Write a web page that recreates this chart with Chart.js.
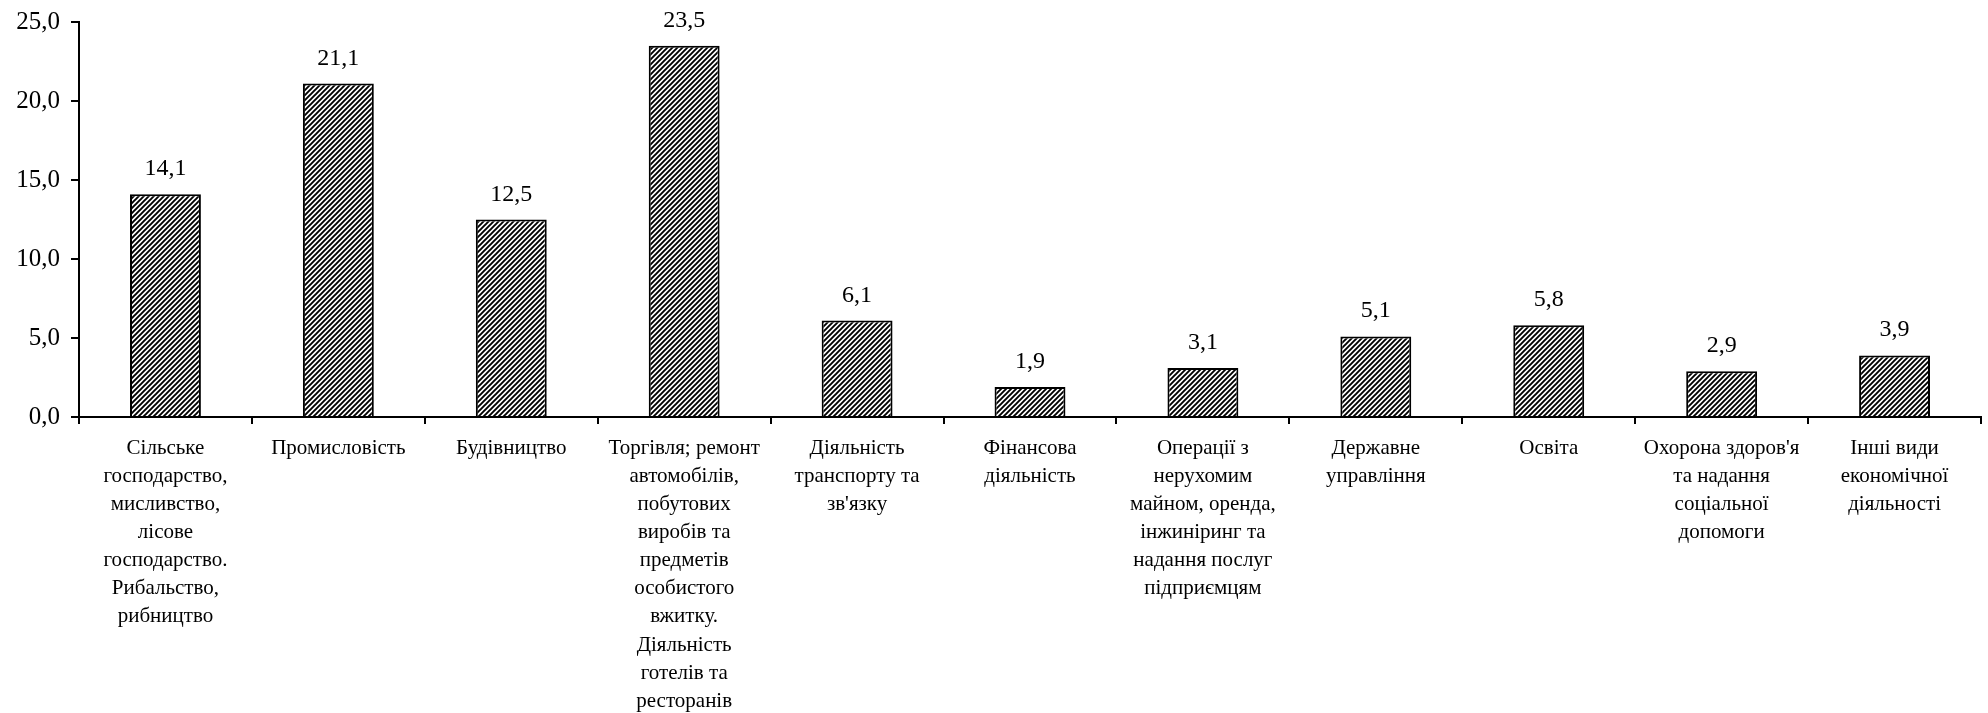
<!DOCTYPE html>
<html>
<head>
<meta charset="utf-8">
<script src="https://cdn.jsdelivr.net/npm/chart.js@4"></script>
<style>
  html, body { margin: 0; padding: 0; background: #fff; }
  #wrap { width: 1988px; height: 713px; }
</style>
</head>
<body>
<div id="wrap"><canvas id="chart" width="1988" height="713"></canvas></div>
<script>
const galuzi = [
    ['Сільське', 'господарство,', 'мисливство,', 'лісове', 'господарство.', 'Рибальство,', 'рибництво'],
    ['Промисловість'],
    ['Будівництво'],
    ['Торгівля; ремонт', 'автомобілів,', 'побутових', 'виробів та', 'предметів', 'особистого', 'вжитку.', 'Діяльність', 'готелів та', 'ресторанів'],
    ['Діяльність', 'транспорту та', "зв'язку"],
    ['Фінансова', 'діяльність'],
    ['Операції з', 'нерухомим', 'майном, оренда,', 'інжиніринг та', 'надання послуг', 'підприємцям'],
    ['Державне', 'управління'],
    ['Освіта'],
    ["Охорона здоров'я", 'та надання', 'соціальної', 'допомоги'],
    ['Інші види', 'економічної', 'діяльності']
];
const chastka = [14.1, 21.1, 12.5, 23.5, 6.1, 1.9, 3.1, 5.1, 5.8, 2.9, 3.9];
const yTicks = [0, 5, 10, 15, 20, 25];

const shrift = "'Liberation Serif', 'Times New Roman', serif";

// --- штрихування стовпців ---
function zrobytyShtrykh() {
    const t = document.createElement('canvas');
    t.width = 5; t.height = 5;
    const c = t.getContext('2d');
    c.fillStyle = '#fff';
    c.fillRect(0, 0, 5, 5);
    c.strokeStyle = '#000';
    c.lineWidth = 1.9;
    c.beginPath();
    c.moveTo(-1, 6); c.lineTo(6, -1);
    c.moveTo(-3.5, 3.5); c.lineTo(3.5, -3.5);
    c.moveTo(1.5, 8.5); c.lineTo(8.5, 1.5);
    c.stroke();
    return document.getElementById('chart').getContext('2d').createPattern(t, 'repeat');
}

// підписи значень над стовпцями
const pidpysy = {
    id: 'pidpysy',
    afterDatasetsDraw(chart) {
        const ctx = chart.ctx;
        const meta = chart.getDatasetMeta(0);
        ctx.save();
        ctx.font = '24px ' + shrift;
        ctx.fillStyle = '#000';
        ctx.textAlign = 'center';
        ctx.textBaseline = 'alphabetic';
        meta.data.forEach((bar, i) => {
            const v = chart.data.datasets[0].data[i];
            ctx.fillText(v.toFixed(1).replace('.', ','), bar.x, bar.y - 19);
        });
        ctx.restore();
    }
};

Chart.defaults.font.family = shrift;
Chart.defaults.color = '#000';

new Chart(document.getElementById('chart'), {
    type: 'bar',
    data: {
        labels: galuzi,
        datasets: [{
            data: chastka,
            backgroundColor: zrobytyShtrykh(),
            borderColor: '#000',
            borderWidth: 2,
            barPercentage: 0.41,
            categoryPercentage: 1
        }]
    },
    options: {
        responsive: false,
        animation: false,
        layout: { padding: { top: 22, right: 7, left: 0, bottom: 0 } },
        plugins: { legend: { display: false }, tooltip: { enabled: false } },
        scales: {
            x: {
                grid: { drawOnChartArea: false, color: '#000', lineWidth: 2, tickLength: 7, offset: true },
                border: { color: '#000', width: 2 },
                ticks: { font: { size: 21, lineHeight: 1.34 }, padding: 10, maxRotation: 0, autoSkip: false },
                afterFit(scale) {
                    scale.height = 296;
                    scale.paddingLeft = 0;
                    scale.paddingRight = 0;
                }
            },
            y: {
                min: 0, max: 25,
                afterBuildTicks(scale) { scale.ticks = yTicks.map(v => ({ value: v })); },
                grid: { drawOnChartArea: false, color: '#000', lineWidth: 2, tickLength: 8 },
                border: { color: '#000', width: 2 },
                ticks: {
                    font: { size: 25 }, padding: 11,
                    callback: v => v.toFixed(1).replace('.', ',')
                },
                afterFit(scale) {
                    scale.width = 79;
                    scale.paddingTop = 0;
                    scale.paddingBottom = 0;
                }
            }
        }
    },
    plugins: [pidpysy]
});
</script>
</body>
</html>
